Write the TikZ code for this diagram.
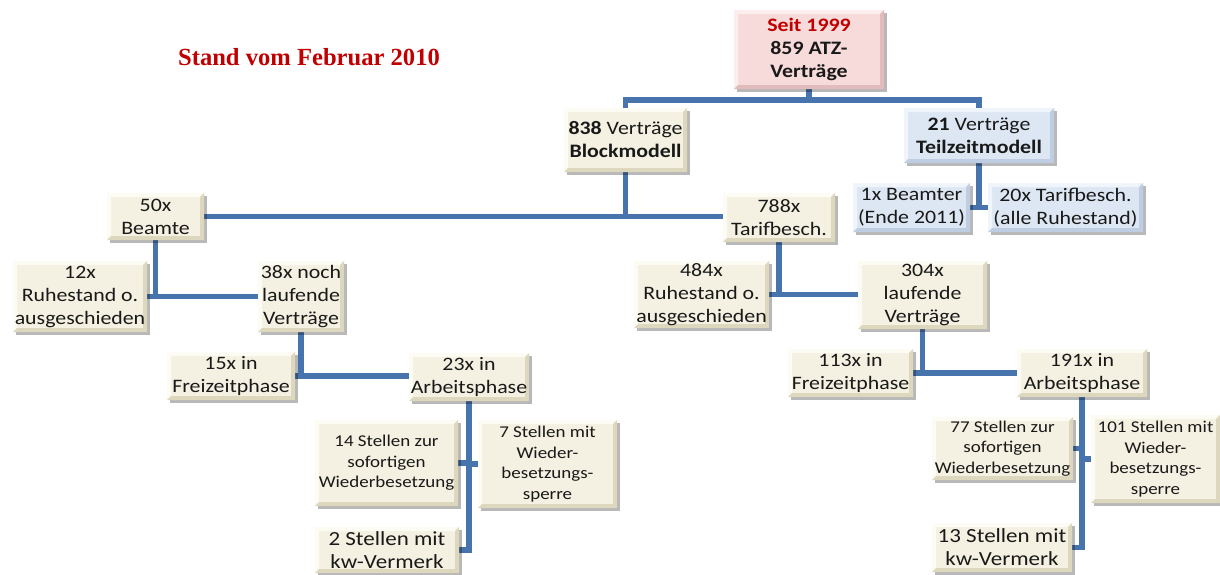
\documentclass[tikz,border=0pt]{standalone}
\usepackage{fontspec}
\newfontfamily\boxfont[FakeStretch=1.15]{Carlito}
\newfontfamily\titlefont{Liberation Serif}
\usetikzlibrary{shadows,backgrounds,calc}
\definecolor{lnblue}{RGB}{72,116,174}
\definecolor{darkred}{RGB}{192,0,0}
\definecolor{crbase}{RGB}{244,241,226}
\definecolor{crlight}{RGB}{252,251,244}
\definecolor{crdark}{RGB}{221,215,190}
\definecolor{pkbase}{RGB}{247,218,218}
\definecolor{pklight}{RGB}{253,238,238}
\definecolor{pkdark}{RGB}{226,188,188}
\definecolor{blbase}{RGB}{221,231,243}
\definecolor{bllight}{RGB}{240,245,251}
\definecolor{bldark}{RGB}{190,205,225}
\tikzset{
  bev/.style n args={3}{fill=#1, path picture={
    \coordinate (ppsw) at (path picture bounding box.south west);
    \coordinate (ppne) at (path picture bounding box.north east);
    \coordinate (ppnw) at (path picture bounding box.north west);
    \coordinate (ppse) at (path picture bounding box.south east);
    \fill[#2] (ppsw) -- (ppnw) -- (ppne) -- ([shift={(-4pt,-4pt)}]ppne) -- ([shift={(4pt,-4pt)}]ppnw) -- ([shift={(4pt,4pt)}]ppsw) -- cycle;
    \fill[#3] (ppsw) -- (ppse) -- (ppne) -- ([shift={(-4pt,-4pt)}]ppne) -- ([shift={(-4pt,4pt)}]ppse) -- ([shift={(4pt,4pt)}]ppsw) -- cycle;
  }},
  box/.style={inner sep=0pt, align=center, text=black!90,
    font=\boxfont\fontsize{19}{23}\selectfont,
    drop shadow={shadow xshift=2.5pt, shadow yshift=-2.5pt, fill=black, opacity=0.28}},
  cream/.style={box, bev={crbase}{crlight}{crdark}},
  pink/.style={box, bev={pkbase}{pklight}{pkdark}},
  lblue/.style={box, bev={blbase}{bllight}{bldark}},
  small/.style={font=\boxfont\fontsize{16.5}{20.5}\selectfont},
  big/.style={font=\boxfont\fontsize{20}{23}\selectfont},
  sz/.style 2 args={minimum width=#1pt, minimum height=#2pt},
  conn/.style={line width=5.5pt, draw=lnblue}
}
\begin{document}
\begin{tikzpicture}[x=1pt,y=-1pt]
\useasboundingbox (0,0) rectangle (1220,574);

\node[anchor=base, text=darkred, font=\titlefont\bfseries\fontsize{24.6}{28}\selectfont] (title) at (309,65) {Stand vom Februar 2010};

\node[pink, sz={150}{79}] (seit) at (809,49.5) {\textcolor{darkred}{\textbf{Seit 1999}}\\\textbf{859 ATZ-}\\\textbf{Verträge}};
\node[cream, sz={123}{64}] (block) at (625.5,140) {\textbf{838} Verträge\\\textbf{Blockmodell}};
\node[lblue, sz={150}{55}] (teil) at (979,135.5) {\textbf{21} Verträge\\\textbf{Teilzeitmodell}};
\node[lblue, sz={117}{49}] (beam1) at (911.5,207.5) {1x Beamter\\(Ende 2011)};
\node[lblue, sz={155}{49}] (tarif20) at (1065.5,207.5) {20x Tarifbesch.\\(alle Ruhestand)};

\node[cream, sz={97}{47}] (b50) at (155.5,216.5) {50x\\Beamte};
\node[cream, sz={112}{49}] (t788) at (779,217.5) {788x\\Tarifbesch.};

\node[cream, sz={134}{71}] (r12) at (80,296.5) {12x\\Ruhestand o.\\ausgeschieden};
\node[cream, sz={86}{71}] (l38) at (301,296.5) {38x noch\\laufende\\Verträge};
\node[cream, sz={128}{48}] (f15) at (231,376) {15x in\\Freizeitphase};
\node[cream, sz={120}{48}] (a23) at (469,377) {23x in\\Arbeitsphase};
\node[cream, small, sz={143}{86}] (s14) at (386.5,463) {14 Stellen zur\\sofortigen\\Wiederbesetzung};
\node[cream, small, sz={139}{88}] (s7) at (547.5,464) {7 Stellen mit\\Wieder-\\besetzungs-\\sperre};
\node[cream, big, sz={144}{46}] (k2) at (387,550) {2 Stellen mit\\kw-Vermerk};

\node[cream, sz={135}{67}] (r484) at (701.5,294.5) {484x\\Ruhestand o.\\ausgeschieden};
\node[cream, sz={129}{68}] (l304) at (922.5,295) {304x\\laufende\\Verträge};
\node[cream, sz={125}{48}] (f113) at (850.5,373) {113x in\\Freizeitphase};
\node[cream, sz={130}{48}] (a191) at (1082,373) {191x in\\Arbeitsphase};
\node[cream, small, sz={141}{63}] (s77) at (1002.5,448.5) {77 Stellen zur\\sofortigen\\Wiederbesetzung};
\node[cream, small, sz={129}{88}] (s101) at (1155.5,459) {101 Stellen mit\\Wieder-\\besetzungs-\\sperre};
\node[cream, big, sz={140}{49}] (k13) at (1002,547.5) {13 Stellen mit\\kw-Vermerk};

\begin{scope}[on background layer]
\fill[white] (0,0) rectangle (1220,574);
\coordinate (j0) at (809,100);
\draw[conn] (seit.south) -- (j0);
\draw[conn] (block.north) |- (j0) -| (teil.north);
\draw[conn] (block.south) -- (block.south |- b50.east);
\draw[conn] (b50.east) -- (b50.east -| t788.west);
\draw[conn] (teil.south) -- (teil.south |- beam1.east);
\draw[conn] (beam1.east) -- (tarif20.west);

\draw[conn] (b50.south) -- (b50.south |- r12.east);
\draw[conn] (r12.east) -- (l38.west);
\draw[conn] (l38.south) -- (l38.south |- f15.east);
\draw[conn] (f15.east) -- (f15.east -| a23.west);
\draw[conn] (a23.south) |- (k2.east);
\draw[conn] (s14.east) -- (s14.east -| a23.south);
\draw[conn] (s7.west) -- (s7.west -| a23.south);

\draw[conn] (t788.south) -- (t788.south |- r484.east);
\draw[conn] (r484.east) -- (r484.east -| l304.west);
\draw[conn] (l304.south) -- (l304.south |- f113.east);
\draw[conn] (f113.east) -- (a191.west);
\draw[conn] (a191.south) |- (k13.east);
\draw[conn] (s77.east) -- (s77.east -| a191.south);
\draw[conn] (s101.west) -- (s101.west -| a191.south);
\end{scope}
\end{tikzpicture}
\end{document}
